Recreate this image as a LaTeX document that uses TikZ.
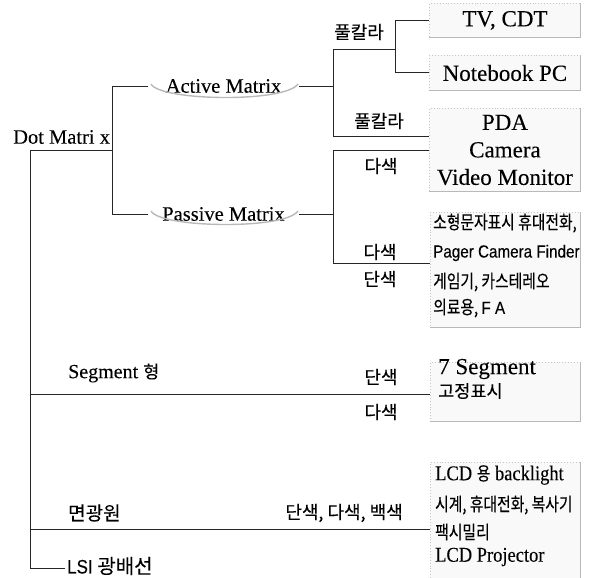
\documentclass[tikz,border=0pt]{standalone}
\usepackage{fontspec}
\setmainfont{Liberation Serif}[FakeBold=0.12]
\newfontfamily\kr[FakeBold=0.18]{Noto Sans CJK KR}
\newfontfamily\krn[FakeStretch=0.8,FakeBold=0.18]{Noto Sans CJK KR}
\newfontfamily\snar[FakeStretch=0.87,FakeBold=0.15]{Liberation Sans}
\newfontfamily\serifn[FakeStretch=0.88,FakeBold=0.12]{Liberation Serif}
\begin{document}
\begin{tikzpicture}[x=1pt,y=-1pt,
  ln/.style={draw=black!85,line width=0.9pt},
  txt/.style={inner sep=0pt},
  bx/.style={draw=gray!45, dotted, line width=0.9pt, fill=gray!5, inner sep=0pt},
  bxedge/.style={draw=gray!55, line width=1pt},
  arcln/.style={draw=gray!55, line width=1.4pt},
  ko/.style={inner sep=0pt, font={\kr\fontsize{18}{20}\selectfont}},
  mat/.style={inner sep=0pt, minimum width=151, minimum height=22, font={\fontsize{20.5}{24}\selectfont}},
  serifbig/.style={font={\fontsize{23}{28}\selectfont}},
  krbox/.style={txt, anchor=west, font={\krn\fontsize{18.5}{20}\selectfont}},
  snbox/.style={txt, anchor=west, font={\snar\fontsize{17.5}{20}\selectfont}},
  lcdser/.style={txt, anchor=west, font={\serifn\fontsize{21}{24}\selectfont}}
]
\fill[white] (0,0) rectangle (590,578);
\useasboundingbox (0,0) rectangle (590,578);

% ---- left side texts ----
\node[txt, anchor=west, font={\fontsize{20.5}{22}\selectfont}] (dot) at (13,137) {Dot Matri x};
\node[mat] (am) at (223.5,86) {Active Matrix};
\node[mat] (pm) at (223.5,214) {Passive Matrix};
\draw[arcln] (151,84) .. controls (160,101) and (285,103) .. (298,84);
\draw[arcln] (151,211) .. controls (160,228) and (285,230) .. (298,211);

% ---- boxes ----
\node[bx, serifbig, anchor=north west, minimum width=151, minimum height=34] (tv) at (429,3) {TV, CDT};
\node[bx, serifbig, anchor=north west, minimum width=151, minimum height=35] (nb) at (429,55) {Notebook PC};
\node[bx, anchor=north west, minimum width=151, minimum height=83, align=center,
      font={\fontsize{23}{27.5}\selectfont}] (pda) at (429,108) {PDA\\Camera\\Video Monitor};
\node[bx, anchor=north west, minimum width=150, minimum height=115] (sm) at (430,212) {};
\node[bx, anchor=north west, minimum width=150, minimum height=59] (seg) at (430,362) {};
\node[bx, anchor=north west, minimum width=150, minimum height=116] (lcd) at (430,462) {};
\foreach \b in {tv,nb,pda,sm,seg,lcd}
  \draw[bxedge] (\b.north east) -- (\b.south east) -- (\b.south west);

% ---- box contents ----
\node[krbox] (s1) at (433,223) {소형문자표시 휴대전화,};
\node[snbox] (s2) at (433,253) {Pager Camera Finder};
\node[krbox] (s3) at (433,282) {게임기, 카스테레오};
\node[krbox] (s4) at (433,308) {의료용, {\snar\fontsize{17.5}{20}\selectfont F A}};

\node[txt, anchor=west, font={\fontsize{23}{26}\selectfont}] (g1) at (438,369) {7 Segment};
\node[txt, anchor=west, font={\kr\fontsize{17.5}{20}\selectfont}] (g2) at (438,391) {고정표시};

\node[lcdser] (c1) at (435,475) {LCD {\krn\fontsize{18.5}{20}\selectfont 용} backlight};
\node[krbox] (c2) at (435,505) {시계, 휴대전화, 복사기};
\node[krbox] (c3) at (435,532) {팩시밀리};
\node[lcdser] (c4) at (435,557) {LCD Projector};

% ---- labels ----
\node[ko] (fc1) at (359,32) {풀칼라};
\node[ko] (fc2) at (379,121) {풀칼라};
\node[ko] (ds1) at (381,166) {다색};
\node[ko] (ds2) at (380,252) {다색};
\node[ko] (dn2) at (380,279) {단색};
\node[txt, anchor=west, font={\fontsize{20}{22}\selectfont}] (sg) at (68,373) {Segment {\kr\fontsize{17.5}{20}\selectfont 형}};
\node[ko] (dn3) at (381,377) {단색};
\node[ko] (ds3) at (381,412) {다색};
\node[ko, anchor=west, font={\kr\fontsize{19}{20}\selectfont}] (mg) at (68,513) {면광원};
\node[ko, anchor=east] (dd) at (403,513) {단색, 다색, 백색};
\node[inner xsep=2pt, inner ysep=0pt, anchor=west, font={\snar\fontsize{19.5}{22}\selectfont}] (lsi) at (65,566) {LSI {\kr\fontsize{20}{22}\selectfont 광배선}};

% ---- connectors ----
\coordinate (j1) at (112,150);
\coordinate (t0) at (30,150);
\coordinate (ts) at (30,394);
\coordinate (tm) at (30,529);
\coordinate (tl) at (30,568);
\draw[ln] (am.west) -| (j1);
\draw[ln] (pm.west) -| (j1);
\draw[ln] (j1) -- (t0) -- (tl) -- (tl -| lsi.west);
\draw[ln] (ts) -- (ts -| seg.west);
\draw[ln] (tm) -- (tm -| lcd.west);

\coordinate (a1) at (333,49);
\coordinate (a2) at (333,136);
\coordinate (jb) at (395,49);
\draw[ln] (am.east) -- (am.east -| a1);
\draw[ln] (a1) -- (a2) -- (a2 -| pda.west);
\draw[ln] (a1) -- (jb);
\draw[ln] (tv.west) -| (jb);
\draw[ln] (nb.west) -| (jb);

\coordinate (p1) at (333,150);
\coordinate (p2) at (333,263);
\draw[ln] (pm.east) -- (pm.east -| p1);
\draw[ln] (p1 -| pda.west) -- (p1) -- (p2) -- (p2 -| sm.west);
\end{tikzpicture}
\end{document}
